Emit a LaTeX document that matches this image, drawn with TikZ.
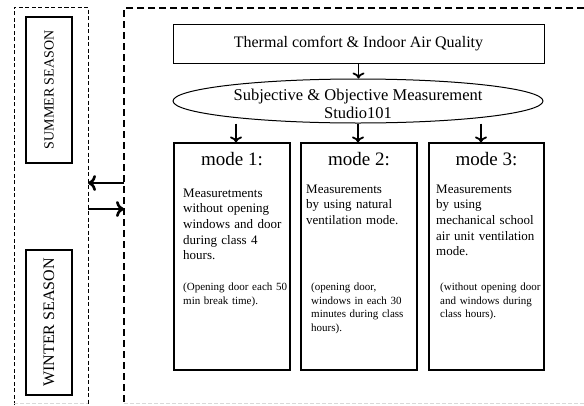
\documentclass[tikz,border=0pt]{standalone}
\usepackage{fontspec}
\setmainfont{Liberation Serif}
\usetikzlibrary{positioning,shapes.geometric,arrows.meta}

\begin{document}
\begin{tikzpicture}[x=1pt,y=-1pt,
  box/.style={draw,line width=1.1pt,inner sep=0pt},
  txt/.style={inner sep=0pt,align=left,text width=108pt,font=\fontsize{13}{15.7}\selectfont},
  note/.style={inner sep=0pt,align=left,text width=108pt,font=\fontsize{11}{13.6}\selectfont},
  arr/.style={-{To[length=6pt,width=12pt]},line width=1.8pt},
  sidearr/.style={-{To[length=8pt,width=16pt]},line width=2.6pt}]
  \useasboundingbox (0,0) rectangle (584,405);
  % dashed frames
  \coordinate (sea-nw) at (14,7);
  \coordinate (sea-ne) at (88,7);
  \coordinate (main-nw) at (124,8);
  \draw[line width=0.8pt,dash pattern=on 4pt off 2.5pt] (sea-nw |- 0,405) -- (sea-nw) -- (sea-ne) -- (sea-ne |- 0,405);
  \draw[line width=1.3pt,dash pattern=on 7pt off 4pt] (584,8) -- (main-nw) -- (main-nw |- 0,405);
  \draw[black!15,line width=0.6pt,dash pattern=on 4pt off 2pt] (sea-nw |- 0,403) -- (sea-ne |- 0,403) (main-nw |- 0,403) -- (584,403);
  % seasons
  \node[box,rotate=90,minimum width=146,minimum height=46,font=\fontsize{14}{16}\selectfont] (summer) at (49,90) {SUMMER SEASON};
  \node[box,rotate=90,minimum width=145,minimum height=46,font=\fontsize{16}{18}\selectfont] (winter) at (49,322.5) {WINTER SEASON};
  \draw[sidearr] (main-nw |- 0,183) -- (sea-ne |- 0,183);
  \draw[sidearr] (sea-ne |- 0,209) -- (main-nw |- 0,209);
  % top of the chart
  \node[box,line width=1pt,minimum width=371,minimum height=39,font=\fontsize{16}{18}\selectfont] (topic) at (358.5,43.5) {Thermal comfort \& Indoor Air Quality};
  \node[draw,ellipse,line width=1pt,minimum width=370,minimum height=44] (meas) at (358,101) {};
  \node[align=center,inner sep=0pt,font=\fontsize{16.5}{18}\selectfont] (meas-txt) at (358,104) {Subjective \& Objective Measurement\\Studio101};
  \draw[arr] (topic.south) -- (topic.south |- meas.north);
  % modes
  \node[box,minimum width=116,minimum height=227] (m1) at (232,256.5) {};
  \node[box,minimum width=116,minimum height=227] (m2) at (359,256.5) {};
  \node[box,minimum width=115,minimum height=227] (m3) at (486.5,256.5) {};
  \foreach \m/\dx in {m1/4,m2/-1,m3/-5.5}
    \draw[arr] ([xshift=\dx]\m.north |- meas.south) -- ([xshift=\dx]\m.north);
  \foreach \m/\n in {m1/1,m2/2,m3/3}
    \path (\m.north) ++(0,23) node[anchor=base,inner sep=0pt,font=\fontsize{19}{22}\selectfont] (\m-title) {mode \n:};
  \node[txt,anchor=base west] (m1-txt) at (183,197) {Measuretments\\without opening\\windows and door\\during class 4\\hours.};
  \node[note,anchor=base west] (m1-note) at (183,290.5) {(Opening door each 50\\min break time).};
  \node[txt,anchor=base west] (m2-txt) at (306,193) {Measurements\\by using natural\\ventilation mode.};
  \node[note,anchor=base west] (m2-note) at (311,290.5) {(opening door,\\windows in each 30\\minutes during class\\hours).};
  \node[txt,anchor=base west] (m3-txt) at (436,193) {Measurements\\by using\\mechanical school\\air unit ventilation\\mode.};
  \node[note,anchor=base west] (m3-note) at (440,290.5) {(without opening door\\and windows during\\class hours).};
\end{tikzpicture}
\end{document}
